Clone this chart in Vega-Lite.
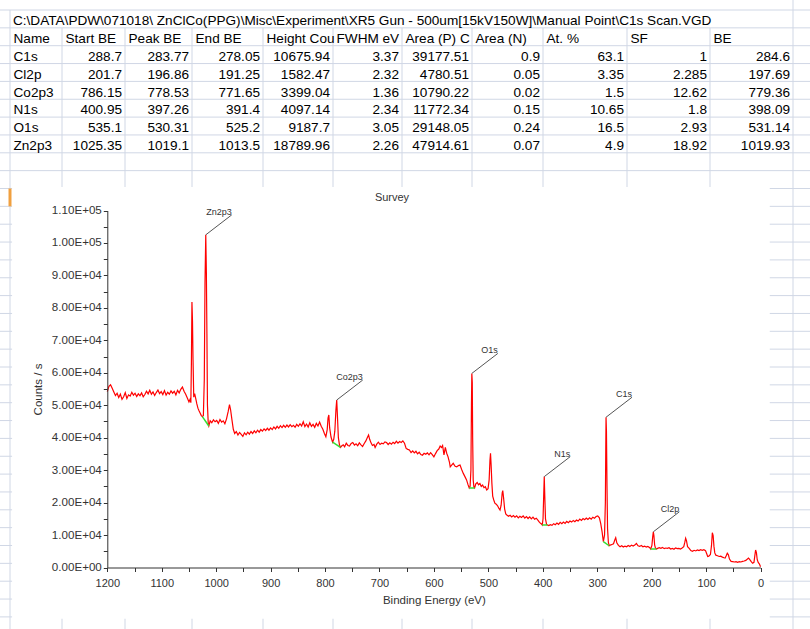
{
 "$schema": "https://vega.github.io/schema/vega-lite/v6.json",
 "width": 810, "height": 629, "autosize": {"type": "none"}, "padding": 0,
 "background": "white",
 "config": {"view": {"stroke": null}, "font": "Liberation Sans"},
 "title": {"text": "Survey", "orient": "top", "frame": "group", "anchor": "middle", "offset": -220, "dx": -13, "baseline": "alphabetic", "fontSize": 11, "font": "Liberation Sans", "fontWeight": "normal", "color": "#333333"},
 "datasets": {
  "cells": [
   {"r": 2, "name": "C1s", "start": 288.7, "peak": 283.77, "end": 278.05, "height": 10675.94, "fwhm": 3.37, "areaP": 39177.51, "areaN": 0.9, "at": 63.1, "sf": 1, "be": 284.6},
   {"r": 3, "name": "Cl2p", "start": 201.7, "peak": 196.86, "end": 191.25, "height": 1582.47, "fwhm": 2.32, "areaP": 4780.51, "areaN": 0.05, "at": 3.35, "sf": 2.285, "be": 197.69},
   {"r": 4, "name": "Co2p3", "start": 786.15, "peak": 778.53, "end": 771.65, "height": 3399.04, "fwhm": 1.36, "areaP": 10790.22, "areaN": 0.02, "at": 1.5, "sf": 12.62, "be": 779.36},
   {"r": 5, "name": "N1s", "start": 400.95, "peak": 397.26, "end": 391.4, "height": 4097.14, "fwhm": 2.34, "areaP": 11772.34, "areaN": 0.15, "at": 10.65, "sf": 1.8, "be": 398.09},
   {"r": 6, "name": "O1s", "start": 535.1, "peak": 530.31, "end": 525.2, "height": 9187.7, "fwhm": 3.05, "areaP": 29148.05, "areaN": 0.24, "at": 16.5, "sf": 2.93, "be": 531.14},
   {"r": 7, "name": "Zn2p3", "start": 1025.35, "peak": 1019.1, "end": 1013.5, "height": 18789.96, "fwhm": 2.26, "areaP": 47914.61, "areaN": 0.07, "at": 4.9, "sf": 18.92, "be": 1019.93}
  ],
  "heads": [
   {"i": 0, "h": "Name"}, {"i": 1, "h": "Start BE"}, {"i": 2, "h": "Peak BE"}, {"i": 3, "h": "End BE"}, {"i": 4, "h": "Height Cou"}, {"i": 5, "h": "FWHM eV"}, {"i": 6, "h": "Area (P) C"}, {"i": 7, "h": "Area (N)"}, {"i": 8, "h": "At. %"}, {"i": 9, "h": "SF"}, {"i": 10, "h": "BE"}
  ],
  "path": [{"t": "C:\\DATA\\PDW\\071018\\ ZnClCo(PPG)\\Misc\\Experiment\\XR5 Gun - 500um[15kV150W]\\Manual Point\\C1s Scan.VGD"}],
  "hrows": [{"r": 0}, {"r": 1}, {"r": 2}, {"r": 3}, {"r": 4}, {"r": 5}, {"r": 6}, {"r": 7}, {"r": 8}, {"r": 9}, {"r": 10}, {"r": 11}, {"r": 12}, {"r": 13}, {"r": 14}, {"r": 15}, {"r": 16}, {"r": 17}, {"r": 18}, {"r": 19}, {"r": 20}, {"r": 21}, {"r": 22}, {"r": 23}, {"r": 24}, {"r": 25}, {"r": 26}, {"r": 27}, {"r": 28}, {"r": 29}, {"r": 30}, {"r": 31}, {"r": 32}, {"r": 33}, {"r": 34}],
  "vcols": [{"i": 0, "r0": 0}, {"i": 1, "r0": 1}, {"i": 2, "r0": 1}, {"i": 3, "r0": 1}, {"i": 4, "r0": 1}, {"i": 5, "r0": 1}, {"i": 6, "r0": 1}, {"i": 7, "r0": 1}, {"i": 8, "r0": 1}, {"i": 9, "r0": 1}, {"i": 10, "r0": 1}, {"i": 11, "r0": -1}],
  "spectrum": [
   {"e": 1200, "c": 54200}, {"e": 1197, "c": 55800}, {"e": 1194, "c": 56300}, {"e": 1191, "c": 55200}, {"e": 1188, "c": 54100}, {"e": 1185, "c": 53000}, {"e": 1182, "c": 53700}, {"e": 1179, "c": 52400}, {"e": 1176, "c": 53400}, {"e": 1173, "c": 51800}, {"e": 1170, "c": 52600}, {"e": 1167, "c": 53900}, {"e": 1164, "c": 52100}, {"e": 1161, "c": 53200}, {"e": 1158, "c": 52800}, {"e": 1155, "c": 54000}, {"e": 1152, "c": 53100}, {"e": 1149, "c": 53700}, {"e": 1146, "c": 52700}, {"e": 1143, "c": 53500}, {"e": 1140, "c": 52900}, {"e": 1137, "c": 53800}, {"e": 1134, "c": 52600}, {"e": 1131, "c": 53300}, {"e": 1128, "c": 54300}, {"e": 1125, "c": 53500}, {"e": 1122, "c": 54600}, {"e": 1119, "c": 53400}, {"e": 1116, "c": 54100}, {"e": 1113, "c": 53000}, {"e": 1110, "c": 53900}, {"e": 1107, "c": 54700}, {"e": 1104, "c": 53600}, {"e": 1101, "c": 54200}, {"e": 1098, "c": 53300}, {"e": 1095, "c": 54500}, {"e": 1092, "c": 53100}, {"e": 1089, "c": 54000}, {"e": 1086, "c": 53400}, {"e": 1083, "c": 54400}, {"e": 1080, "c": 53700}, {"e": 1077, "c": 54300}, {"e": 1074, "c": 53200}, {"e": 1071, "c": 54600}, {"e": 1068, "c": 53800}, {"e": 1065, "c": 54900}, {"e": 1062, "c": 55600}, {"e": 1059, "c": 54300}, {"e": 1056, "c": 53400}, {"e": 1053, "c": 52200}, {"e": 1050, "c": 51000}, {"e": 1048, "c": 51800}, {"e": 1046.5, "c": 50800}, {"e": 1045.5, "c": 63000}, {"e": 1044.5, "c": 81800}, {"e": 1043.5, "c": 76000}, {"e": 1042.5, "c": 64000}, {"e": 1041.2, "c": 52500}, {"e": 1039.5, "c": 53600}, {"e": 1037.5, "c": 52000}, {"e": 1035.5, "c": 50400}, {"e": 1033.5, "c": 49100}, {"e": 1031.5, "c": 48300}, {"e": 1029.5, "c": 47600}, {"e": 1027.5, "c": 46900}, {"e": 1025.35, "c": 46500}, {"e": 1023.5, "c": 46800}, {"e": 1021.8, "c": 58000}, {"e": 1020.5, "c": 88000}, {"e": 1019.1, "c": 102500}, {"e": 1018, "c": 91000}, {"e": 1017, "c": 72000}, {"e": 1016, "c": 50000}, {"e": 1014.5, "c": 44200}, {"e": 1013.5, "c": 43600},
   {"e": 1011, "c": 45200}, {"e": 1008, "c": 44600}, {"e": 1005, "c": 45500}, {"e": 1002, "c": 44900}, {"e": 999, "c": 45300}, {"e": 996, "c": 44400}, {"e": 993, "c": 45600}, {"e": 990, "c": 44800}, {"e": 987, "c": 45200}, {"e": 984, "c": 44300}, {"e": 981, "c": 45800}, {"e": 978, "c": 48000}, {"e": 975.5, "c": 50200}, {"e": 973.5, "c": 48600}, {"e": 971, "c": 45500}, {"e": 968.5, "c": 42600}, {"e": 966, "c": 41300}, {"e": 963, "c": 41900}, {"e": 960, "c": 40800}, {"e": 957, "c": 41600}, {"e": 954, "c": 41000}, {"e": 951, "c": 40400}, {"e": 948, "c": 41500}, {"e": 945, "c": 40900}, {"e": 942, "c": 41700}, {"e": 939, "c": 41100}, {"e": 936, "c": 41900}, {"e": 933, "c": 41300}, {"e": 930, "c": 42100}, {"e": 927, "c": 41500}, {"e": 924, "c": 42300}, {"e": 921, "c": 41700}, {"e": 918, "c": 42500}, {"e": 915, "c": 42000}, {"e": 912, "c": 42700}, {"e": 909, "c": 42200}, {"e": 906, "c": 42900}, {"e": 903, "c": 42300}, {"e": 900, "c": 43000}, {"e": 897, "c": 42500}, {"e": 894, "c": 43300}, {"e": 891, "c": 42700}, {"e": 888, "c": 43500}, {"e": 885, "c": 42900}, {"e": 882, "c": 43700}, {"e": 879, "c": 43100}, {"e": 876, "c": 43800}, {"e": 873, "c": 43200}, {"e": 870, "c": 43900}, {"e": 867, "c": 43300}, {"e": 864, "c": 44000}, {"e": 861, "c": 43400}, {"e": 858, "c": 43800}, {"e": 855, "c": 43200}, {"e": 852, "c": 44100}, {"e": 849, "c": 43500}, {"e": 846, "c": 44300}, {"e": 843, "c": 43600}, {"e": 840, "c": 44900}, {"e": 837, "c": 43400}, {"e": 834, "c": 44200}, {"e": 831, "c": 43300}, {"e": 828, "c": 44600}, {"e": 825, "c": 43500}, {"e": 822, "c": 44100}, {"e": 819, "c": 43200}, {"e": 816, "c": 44400}, {"e": 813, "c": 43600}, {"e": 810, "c": 44800}, {"e": 807, "c": 43500}, {"e": 804, "c": 42600}, {"e": 801, "c": 41200}, {"e": 798.5, "c": 40300}, {"e": 796, "c": 42500}, {"e": 794.5, "c": 46000}, {"e": 793, "c": 47000}, {"e": 791.5, "c": 43000}, {"e": 789, "c": 40200}, {"e": 786.15, "c": 38600}, {"e": 784, "c": 39500}, {"e": 782, "c": 42000}, {"e": 780, "c": 48500}, {"e": 778.53, "c": 51600}, {"e": 777.3, "c": 47000}, {"e": 775.5, "c": 40000}, {"e": 773.5, "c": 37800}, {"e": 771.65, "c": 37000},
   {"e": 769, "c": 37500}, {"e": 766.5, "c": 37800}, {"e": 764, "c": 37200}, {"e": 761, "c": 38300}, {"e": 758, "c": 37600}, {"e": 755, "c": 37400}, {"e": 752, "c": 38200}, {"e": 749, "c": 38500}, {"e": 746, "c": 37700}, {"e": 743, "c": 38100}, {"e": 740, "c": 37500}, {"e": 737, "c": 38400}, {"e": 734, "c": 37800}, {"e": 731, "c": 37300}, {"e": 728, "c": 38200}, {"e": 725, "c": 39000}, {"e": 722, "c": 40100}, {"e": 720, "c": 40800}, {"e": 718, "c": 39500}, {"e": 715.5, "c": 38400}, {"e": 713, "c": 37600}, {"e": 710, "c": 37900}, {"e": 708, "c": 37000}, {"e": 705, "c": 38000}, {"e": 702, "c": 38600}, {"e": 699, "c": 37900}, {"e": 696, "c": 38300}, {"e": 693, "c": 38100}, {"e": 690, "c": 38700}, {"e": 687, "c": 38500}, {"e": 684, "c": 37900}, {"e": 681, "c": 38400}, {"e": 678, "c": 38000}, {"e": 675, "c": 38600}, {"e": 672, "c": 38200}, {"e": 669, "c": 38900}, {"e": 666, "c": 38300}, {"e": 663, "c": 38800}, {"e": 660, "c": 38500}, {"e": 657, "c": 39000}, {"e": 654, "c": 38300}, {"e": 651, "c": 36700}, {"e": 648, "c": 36400}, {"e": 645, "c": 36200}, {"e": 642, "c": 35400}, {"e": 639, "c": 35900}, {"e": 636, "c": 35300}, {"e": 633, "c": 35800}, {"e": 630, "c": 35000}, {"e": 627, "c": 35500}, {"e": 624, "c": 34800}, {"e": 621, "c": 34600}, {"e": 618, "c": 35200}, {"e": 615, "c": 34900}, {"e": 612, "c": 35300}, {"e": 609, "c": 34700}, {"e": 606, "c": 35400}, {"e": 603, "c": 34800}, {"e": 600, "c": 34100}, {"e": 597, "c": 35100}, {"e": 594, "c": 36000}, {"e": 591, "c": 36500}, {"e": 588.5, "c": 37400}, {"e": 586, "c": 37000}, {"e": 584, "c": 37600}, {"e": 581.5, "c": 34700}, {"e": 579, "c": 37000}, {"e": 576.5, "c": 35200}, {"e": 574, "c": 34100}, {"e": 571.5, "c": 32500}, {"e": 570, "c": 31000}, {"e": 567, "c": 31600}, {"e": 564.5, "c": 32100}, {"e": 561, "c": 31200}, {"e": 558, "c": 31000}, {"e": 555, "c": 31400}, {"e": 552, "c": 31600}, {"e": 549, "c": 30200}, {"e": 546, "c": 29000}, {"e": 543, "c": 28000}, {"e": 540, "c": 27000}, {"e": 537.5, "c": 25600}, {"e": 535.1, "c": 24500},
   {"e": 533.5, "c": 25000}, {"e": 532, "c": 30000}, {"e": 531, "c": 50000}, {"e": 530.31, "c": 59800}, {"e": 529.5, "c": 57000}, {"e": 528.8, "c": 40000}, {"e": 527.8, "c": 27000}, {"e": 526.5, "c": 24800}, {"e": 525.2, "c": 24500}, {"e": 523, "c": 25800}, {"e": 520.5, "c": 26200}, {"e": 518, "c": 25500}, {"e": 515.5, "c": 25900}, {"e": 513, "c": 25000}, {"e": 510.5, "c": 25400}, {"e": 508, "c": 24600}, {"e": 505.5, "c": 24900}, {"e": 503, "c": 23900}, {"e": 500.5, "c": 24300}, {"e": 498.5, "c": 27000}, {"e": 497, "c": 33000}, {"e": 496, "c": 35200}, {"e": 495, "c": 32000}, {"e": 493.5, "c": 26000}, {"e": 492, "c": 22000}, {"e": 490, "c": 20800}, {"e": 488, "c": 19800}, {"e": 485.5, "c": 19500}, {"e": 483, "c": 19000}, {"e": 480.5, "c": 18200}, {"e": 478.5, "c": 17700}, {"e": 476.5, "c": 19200}, {"e": 474.5, "c": 23000}, {"e": 473.5, "c": 23700}, {"e": 472, "c": 21500}, {"e": 470, "c": 18000}, {"e": 468, "c": 16500}, {"e": 466, "c": 16200}, {"e": 463, "c": 15800}, {"e": 460, "c": 16100}, {"e": 457, "c": 15600}, {"e": 454, "c": 16000}, {"e": 451, "c": 15500}, {"e": 448, "c": 15900}, {"e": 445, "c": 15300}, {"e": 442, "c": 15800}, {"e": 439, "c": 15400}, {"e": 436, "c": 15900}, {"e": 433, "c": 15200}, {"e": 430, "c": 15700}, {"e": 427, "c": 15100}, {"e": 424, "c": 15600}, {"e": 421, "c": 15000}, {"e": 418, "c": 15500}, {"e": 415, "c": 14900}, {"e": 412, "c": 15200}, {"e": 409, "c": 14600}, {"e": 406, "c": 13900}, {"e": 403, "c": 13500}, {"e": 400.95, "c": 13100}, {"e": 399.5, "c": 15000}, {"e": 398.3, "c": 22000}, {"e": 397.26, "c": 28000}, {"e": 396.3, "c": 22000}, {"e": 395, "c": 15000}, {"e": 393, "c": 13300}, {"e": 391.4, "c": 13100}, {"e": 389, "c": 12900}, {"e": 386, "c": 13200}, {"e": 383, "c": 13000}, {"e": 380, "c": 13500}, {"e": 377, "c": 13200}, {"e": 374, "c": 13700}, {"e": 371, "c": 13300}, {"e": 368, "c": 13900}, {"e": 365, "c": 13500}, {"e": 362, "c": 14000}, {"e": 359, "c": 13600}, {"e": 356, "c": 14200}, {"e": 353, "c": 13800}, {"e": 350, "c": 14300}, {"e": 347, "c": 14000}, {"e": 344, "c": 14500}, {"e": 341, "c": 14100}, {"e": 338, "c": 14600}, {"e": 335, "c": 14300}, {"e": 332, "c": 14900}, {"e": 329, "c": 14500}, {"e": 326, "c": 15100}, {"e": 323, "c": 14700}, {"e": 320, "c": 15200}, {"e": 317, "c": 14800}, {"e": 314, "c": 15300}, {"e": 311, "c": 14900}, {"e": 308, "c": 15500}, {"e": 305, "c": 15200}, {"e": 302, "c": 15700}, {"e": 299, "c": 15900}, {"e": 296, "c": 15300}, {"e": 293.5, "c": 13500}, {"e": 291, "c": 11000}, {"e": 288.7, "c": 7950}, {"e": 286.5, "c": 10000}, {"e": 285, "c": 20000}, {"e": 284.2, "c": 38000}, {"e": 283.77, "c": 46300}, {"e": 283, "c": 42000}, {"e": 282, "c": 25000}, {"e": 281, "c": 12000}, {"e": 279.5, "c": 7800}, {"e": 278.05, "c": 6700}, {"e": 276, "c": 6900}, {"e": 273, "c": 7100}, {"e": 270, "c": 7300}, {"e": 267.5, "c": 8600}, {"e": 266, "c": 9200}, {"e": 264, "c": 7600}, {"e": 261, "c": 6800}, {"e": 258, "c": 6400}, {"e": 255, "c": 6700}, {"e": 252, "c": 6300}, {"e": 249, "c": 6600}, {"e": 246, "c": 6400}, {"e": 243, "c": 6800}, {"e": 240, "c": 6500}, {"e": 237, "c": 6900}, {"e": 234, "c": 6600}, {"e": 231, "c": 6900}, {"e": 228, "c": 7400}, {"e": 225, "c": 6700}, {"e": 222, "c": 6500}, {"e": 219, "c": 6800}, {"e": 216, "c": 6400}, {"e": 213, "c": 6600}, {"e": 210, "c": 6300}, {"e": 207, "c": 6500}, {"e": 204, "c": 6200}, {"e": 201.7, "c": 5700}, {"e": 199.5, "c": 6800}, {"e": 198, "c": 9500}, {"e": 196.86, "c": 11000}, {"e": 195.8, "c": 9800}, {"e": 194.5, "c": 7000}, {"e": 193, "c": 6000}, {"e": 191.25, "c": 5700}, {"e": 189, "c": 5900}, {"e": 186, "c": 6100}, {"e": 183, "c": 5900}, {"e": 180, "c": 6200}, {"e": 177, "c": 5800}, {"e": 174, "c": 6000}, {"e": 171, "c": 5900}, {"e": 168, "c": 6100}, {"e": 165, "c": 5700}, {"e": 162, "c": 5900}, {"e": 159, "c": 5600}, {"e": 156, "c": 6000}, {"e": 153, "c": 5800}, {"e": 150, "c": 5900}, {"e": 147, "c": 5700}, {"e": 144, "c": 6000}, {"e": 141, "c": 6400}, {"e": 139, "c": 7800}, {"e": 137.5, "c": 9000}, {"e": 136, "c": 8300}, {"e": 134, "c": 6400}, {"e": 131, "c": 5900}, {"e": 128, "c": 5200}, {"e": 125, "c": 5000}, {"e": 122, "c": 5300}, {"e": 119, "c": 5100}, {"e": 116, "c": 5400}, {"e": 113, "c": 5200}, {"e": 110, "c": 5500}, {"e": 107, "c": 5300}, {"e": 104, "c": 5500}, {"e": 101, "c": 5200}, {"e": 99, "c": 4300}, {"e": 97, "c": 3400}, {"e": 95, "c": 3500}, {"e": 92, "c": 4000}, {"e": 90, "c": 6800}, {"e": 88.5, "c": 10700}, {"e": 87, "c": 9800}, {"e": 85.5, "c": 6500}, {"e": 84, "c": 4500}, {"e": 82, "c": 3800}, {"e": 79, "c": 3600}, {"e": 76, "c": 3400}, {"e": 73, "c": 3500}, {"e": 70, "c": 3200}, {"e": 67, "c": 3000}, {"e": 65, "c": 2900}, {"e": 63, "c": 3600}, {"e": 61, "c": 4400}, {"e": 59, "c": 3900}, {"e": 57, "c": 2600}, {"e": 54, "c": 1900}, {"e": 51, "c": 1800}, {"e": 48, "c": 1700}, {"e": 45, "c": 1800}, {"e": 42, "c": 1600}, {"e": 39, "c": 1800}, {"e": 36, "c": 1700}, {"e": 33, "c": 1900}, {"e": 30, "c": 2000}, {"e": 27, "c": 2200}, {"e": 24, "c": 2600}, {"e": 22, "c": 2900}, {"e": 20, "c": 2500}, {"e": 17, "c": 1800}, {"e": 14.5, "c": 1300}, {"e": 12, "c": 1600}, {"e": 10.5, "c": 3500}, {"e": 9, "c": 5400}, {"e": 7.5, "c": 4600}, {"e": 6, "c": 2400}, {"e": 4, "c": 1500}, {"e": 2.5, "c": 1200}, {"e": 1, "c": 700}, {"e": 0, "c": 250}
  ],
  "bg": [
   {"name": "Zn2p3", "s": 1025.35, "sc": 46500, "t": 1013.5, "tc": 43600},
   {"name": "Co2p3", "s": 786.15, "sc": 38600, "t": 771.65, "tc": 37000},
   {"name": "O1s", "s": 535.1, "sc": 24500, "t": 525.2, "tc": 24500},
   {"name": "N1s", "s": 400.95, "sc": 13100, "t": 391.4, "tc": 13100},
   {"name": "C1s", "s": 288.7, "sc": 7950, "t": 278.05, "tc": 6700},
   {"name": "Cl2p", "s": 201.7, "sc": 5700, "t": 191.25, "tc": 5700}
  ],
  "peaks": [
   {"name": "Zn2p3", "be": 1019.1, "top": 102500},
   {"name": "Co2p3", "be": 778.53, "top": 51600},
   {"name": "O1s", "be": 530.31, "top": 59800},
   {"name": "N1s", "be": 397.26, "top": 28000},
   {"name": "C1s", "be": 283.77, "top": 46300},
   {"name": "Cl2p", "be": 196.86, "top": 11000}
  ]
 },
 "layer": [
  {"data": {"name": "hrows"}, "mark": {"type": "rule", "stroke": "#d0d7e5", "strokeWidth": 1},
   "encoding": {"y": {"field": "r", "type": "quantitative", "axis": null, "scale": {"domain": [0, 35], "range": [10, 634.75], "nice": false, "zero": false}}}},
  {"data": {"name": "vcols"}, "mark": {"type": "rule", "stroke": "#d0d7e5", "strokeWidth": 1},
   "encoding": {
    "x": {"field": "i", "type": "quantitative", "axis": null, "scale": {"domain": [0, 1, 2, 3, 4, 5, 6, 7, 8, 9, 10, 11], "range": [10, 62, 125, 192, 263, 333, 402, 472, 543, 627, 710, 793], "nice": false, "zero": false}},
    "y": {"field": "r0", "type": "quantitative", "axis": null, "scale": {"domain": [0, 35], "range": [10, 634.75], "nice": false, "zero": false}},
    "y2": {"datum": 35}}},
  {"data": {"values": [{}]}, "mark": {"type": "rect", "fill": "white"},
   "encoding": {
    "x": {"datum": 0.04, "type": "quantitative", "axis": null, "scale": {"domain": [0, 1, 2, 3, 4, 5, 6, 7, 8, 9, 10, 11], "range": [10, 62, 125, 192, 263, 333, 402, 472, 543, 627, 710, 793], "nice": false, "zero": false}},
    "x2": {"datum": 10.72},
    "y": {"datum": 9.92, "type": "quantitative", "axis": null, "scale": {"domain": [0, 35], "range": [10, 634.75], "nice": false, "zero": false}},
    "y2": {"datum": 34.11}}},
  {"data": {"values": [{}]}, "mark": {"type": "rule", "stroke": "#f0a040", "strokeWidth": 3},
   "encoding": {
    "x": {"datum": 0, "type": "quantitative", "axis": null, "scale": {"domain": [0, 1, 2, 3, 4, 5, 6, 7, 8, 9, 10, 11], "range": [10, 62, 125, 192, 263, 333, 402, 472, 543, 627, 710, 793], "nice": false, "zero": false}},
    "y": {"datum": 10, "type": "quantitative", "axis": null, "scale": {"domain": [0, 35], "range": [10, 634.75], "nice": false, "zero": false}},
    "y2": {"datum": 11}}},
  {"data": {"name": "path"}, "mark": {"type": "text", "align": "left", "baseline": "alphabetic", "dx": 3, "dy": 15.2, "fontSize": 13.6, "font": "Liberation Sans", "fill": "black"},
   "encoding": {
    "x": {"datum": 0, "type": "quantitative", "axis": null, "scale": {"domain": [0, 1, 2, 3, 4, 5, 6, 7, 8, 9, 10, 11], "range": [10, 62, 125, 192, 263, 333, 402, 472, 543, 627, 710, 793], "nice": false, "zero": false}},
    "y": {"datum": 0, "type": "quantitative", "axis": null, "scale": {"domain": [0, 35], "range": [10, 634.75], "nice": false, "zero": false}},
    "text": {"field": "t", "type": "nominal"}}},
  {"data": {"name": "heads"}, "mark": {"type": "text", "align": "left", "baseline": "alphabetic", "dx": 3.5, "dy": 15.2, "fontSize": 13.6, "font": "Liberation Sans", "fill": "black"},
   "encoding": {
    "x": {"field": "i", "type": "quantitative", "axis": null, "scale": {"domain": [0, 1, 2, 3, 4, 5, 6, 7, 8, 9, 10, 11], "range": [10, 62, 125, 192, 263, 333, 402, 472, 543, 627, 710, 793], "nice": false, "zero": false}},
    "y": {"datum": 1, "type": "quantitative", "axis": null, "scale": {"domain": [0, 35], "range": [10, 634.75], "nice": false, "zero": false}},
    "text": {"field": "h", "type": "nominal"}}},
  {"data": {"name": "cells"}, "mark": {"type": "text", "align": "left", "baseline": "alphabetic", "dx": 3.5, "dy": 15.2, "fontSize": 13.6, "font": "Liberation Sans", "fill": "black"},
   "encoding": {
    "x": {"datum": 0, "type": "quantitative", "axis": null, "scale": {"domain": [0, 1, 2, 3, 4, 5, 6, 7, 8, 9, 10, 11], "range": [10, 62, 125, 192, 263, 333, 402, 472, 543, 627, 710, 793], "nice": false, "zero": false}},
    "y": {"field": "r", "type": "quantitative", "axis": null, "scale": {"domain": [0, 35], "range": [10, 634.75], "nice": false, "zero": false}},
    "text": {"field": "name", "type": "nominal"}}},
  {"data": {"name": "cells"}, "mark": {"type": "text", "align": "right", "baseline": "alphabetic", "dx": -3, "dy": 15.2, "fontSize": 13.6, "font": "Liberation Sans", "fill": "black"},
   "encoding": {
    "x": {"datum": 2, "type": "quantitative", "axis": null, "scale": {"domain": [0, 1, 2, 3, 4, 5, 6, 7, 8, 9, 10, 11], "range": [10, 62, 125, 192, 263, 333, 402, 472, 543, 627, 710, 793], "nice": false, "zero": false}},
    "y": {"field": "r", "type": "quantitative", "axis": null, "scale": {"domain": [0, 35], "range": [10, 634.75], "nice": false, "zero": false}},
    "text": {"field": "start", "type": "nominal"}}},
  {"data": {"name": "cells"}, "mark": {"type": "text", "align": "right", "baseline": "alphabetic", "dx": -3, "dy": 15.2, "fontSize": 13.6, "font": "Liberation Sans", "fill": "black"},
   "encoding": {
    "x": {"datum": 3, "type": "quantitative", "axis": null, "scale": {"domain": [0, 1, 2, 3, 4, 5, 6, 7, 8, 9, 10, 11], "range": [10, 62, 125, 192, 263, 333, 402, 472, 543, 627, 710, 793], "nice": false, "zero": false}},
    "y": {"field": "r", "type": "quantitative", "axis": null, "scale": {"domain": [0, 35], "range": [10, 634.75], "nice": false, "zero": false}},
    "text": {"field": "peak", "type": "nominal"}}},
  {"data": {"name": "cells"}, "mark": {"type": "text", "align": "right", "baseline": "alphabetic", "dx": -3, "dy": 15.2, "fontSize": 13.6, "font": "Liberation Sans", "fill": "black"},
   "encoding": {
    "x": {"datum": 4, "type": "quantitative", "axis": null, "scale": {"domain": [0, 1, 2, 3, 4, 5, 6, 7, 8, 9, 10, 11], "range": [10, 62, 125, 192, 263, 333, 402, 472, 543, 627, 710, 793], "nice": false, "zero": false}},
    "y": {"field": "r", "type": "quantitative", "axis": null, "scale": {"domain": [0, 35], "range": [10, 634.75], "nice": false, "zero": false}},
    "text": {"field": "end", "type": "nominal"}}},
  {"data": {"name": "cells"}, "mark": {"type": "text", "align": "right", "baseline": "alphabetic", "dx": -3, "dy": 15.2, "fontSize": 13.6, "font": "Liberation Sans", "fill": "black"},
   "encoding": {
    "x": {"datum": 5, "type": "quantitative", "axis": null, "scale": {"domain": [0, 1, 2, 3, 4, 5, 6, 7, 8, 9, 10, 11], "range": [10, 62, 125, 192, 263, 333, 402, 472, 543, 627, 710, 793], "nice": false, "zero": false}},
    "y": {"field": "r", "type": "quantitative", "axis": null, "scale": {"domain": [0, 35], "range": [10, 634.75], "nice": false, "zero": false}},
    "text": {"field": "height", "type": "nominal"}}},
  {"data": {"name": "cells"}, "mark": {"type": "text", "align": "right", "baseline": "alphabetic", "dx": -3, "dy": 15.2, "fontSize": 13.6, "font": "Liberation Sans", "fill": "black"},
   "encoding": {
    "x": {"datum": 6, "type": "quantitative", "axis": null, "scale": {"domain": [0, 1, 2, 3, 4, 5, 6, 7, 8, 9, 10, 11], "range": [10, 62, 125, 192, 263, 333, 402, 472, 543, 627, 710, 793], "nice": false, "zero": false}},
    "y": {"field": "r", "type": "quantitative", "axis": null, "scale": {"domain": [0, 35], "range": [10, 634.75], "nice": false, "zero": false}},
    "text": {"field": "fwhm", "type": "nominal"}}},
  {"data": {"name": "cells"}, "mark": {"type": "text", "align": "right", "baseline": "alphabetic", "dx": -3, "dy": 15.2, "fontSize": 13.6, "font": "Liberation Sans", "fill": "black"},
   "encoding": {
    "x": {"datum": 7, "type": "quantitative", "axis": null, "scale": {"domain": [0, 1, 2, 3, 4, 5, 6, 7, 8, 9, 10, 11], "range": [10, 62, 125, 192, 263, 333, 402, 472, 543, 627, 710, 793], "nice": false, "zero": false}},
    "y": {"field": "r", "type": "quantitative", "axis": null, "scale": {"domain": [0, 35], "range": [10, 634.75], "nice": false, "zero": false}},
    "text": {"field": "areaP", "type": "nominal"}}},
  {"data": {"name": "cells"}, "mark": {"type": "text", "align": "right", "baseline": "alphabetic", "dx": -3, "dy": 15.2, "fontSize": 13.6, "font": "Liberation Sans", "fill": "black"},
   "encoding": {
    "x": {"datum": 8, "type": "quantitative", "axis": null, "scale": {"domain": [0, 1, 2, 3, 4, 5, 6, 7, 8, 9, 10, 11], "range": [10, 62, 125, 192, 263, 333, 402, 472, 543, 627, 710, 793], "nice": false, "zero": false}},
    "y": {"field": "r", "type": "quantitative", "axis": null, "scale": {"domain": [0, 35], "range": [10, 634.75], "nice": false, "zero": false}},
    "text": {"field": "areaN", "type": "nominal"}}},
  {"data": {"name": "cells"}, "mark": {"type": "text", "align": "right", "baseline": "alphabetic", "dx": -3, "dy": 15.2, "fontSize": 13.6, "font": "Liberation Sans", "fill": "black"},
   "encoding": {
    "x": {"datum": 9, "type": "quantitative", "axis": null, "scale": {"domain": [0, 1, 2, 3, 4, 5, 6, 7, 8, 9, 10, 11], "range": [10, 62, 125, 192, 263, 333, 402, 472, 543, 627, 710, 793], "nice": false, "zero": false}},
    "y": {"field": "r", "type": "quantitative", "axis": null, "scale": {"domain": [0, 35], "range": [10, 634.75], "nice": false, "zero": false}},
    "text": {"field": "at", "type": "nominal"}}},
  {"data": {"name": "cells"}, "mark": {"type": "text", "align": "right", "baseline": "alphabetic", "dx": -3, "dy": 15.2, "fontSize": 13.6, "font": "Liberation Sans", "fill": "black"},
   "encoding": {
    "x": {"datum": 10, "type": "quantitative", "axis": null, "scale": {"domain": [0, 1, 2, 3, 4, 5, 6, 7, 8, 9, 10, 11], "range": [10, 62, 125, 192, 263, 333, 402, 472, 543, 627, 710, 793], "nice": false, "zero": false}},
    "y": {"field": "r", "type": "quantitative", "axis": null, "scale": {"domain": [0, 35], "range": [10, 634.75], "nice": false, "zero": false}},
    "text": {"field": "sf", "type": "nominal"}}},
  {"data": {"name": "cells"}, "mark": {"type": "text", "align": "right", "baseline": "alphabetic", "dx": -3, "dy": 15.2, "fontSize": 13.6, "font": "Liberation Sans", "fill": "black"},
   "encoding": {
    "x": {"datum": 11, "type": "quantitative", "axis": null, "scale": {"domain": [0, 1, 2, 3, 4, 5, 6, 7, 8, 9, 10, 11], "range": [10, 62, 125, 192, 263, 333, 402, 472, 543, 627, 710, 793], "nice": false, "zero": false}},
    "y": {"field": "r", "type": "quantitative", "axis": null, "scale": {"domain": [0, 35], "range": [10, 634.75], "nice": false, "zero": false}},
    "text": {"field": "be", "type": "nominal"}}},
  {"data": {"name": "spectrum"}, "mark": {"type": "line", "stroke": "#ff0000", "strokeWidth": 1.2, "interpolate": "linear"},
   "encoding": {
    "x": {"field": "e", "type": "quantitative",
     "scale": {"domain": [0, 1200], "range": [760.5, 107.3], "nice": false, "zero": false},
     "axis": {"orient": "bottom", "offset": -61.5, "zindex": 1, "values": [0, 50, 100, 150, 200, 250, 300, 350, 400, 450, 500, 550, 600, 650, 700, 750, 800, 850, 900, 950, 1000, 1050, 1100, 1150, 1200],
      "format": "d", "labelExpr": "datum.value % 100 === 0 ? datum.label : ''", "grid": false,
      "domainColor": "#333333", "tickColor": "#333333", "tickSize": 4, "labelFont": "Liberation Sans", "labelFontSize": 11, "labelColor": "#333333", "labelPadding": 6, "labelFlush": false, "labelOverlap": false, "labelBound": false,
      "title": "Binding Energy (eV)", "titleFont": "Liberation Sans", "titleFontSize": 11.5, "titleFontWeight": "normal", "titleColor": "#333333", "titlePadding": 6}},
    "y": {"field": "c", "type": "quantitative",
     "scale": {"domain": [0, 110000], "range": [567.5, 210.5], "nice": false, "zero": false},
     "axis": {"orient": "left", "offset": -107.3, "zindex": 1, "values": [0, 5000, 10000, 15000, 20000, 25000, 30000, 35000, 40000, 45000, 50000, 55000, 60000, 65000, 70000, 75000, 80000, 85000, 90000, 95000, 100000, 105000, 110000],
      "labelExpr": "datum.value % 10000 === 0 ? replace(format(datum.value, '.2e'), 'e+', 'E+0') : ''", "grid": false,
      "domainColor": "#333333", "tickColor": "#333333", "tickSize": 4, "labelFont": "Liberation Sans", "labelFontSize": 11.6, "labelColor": "#333333", "labelPadding": 2, "labelOverlap": false, "labelBound": false, "labelFlush": false,
      "title": "Counts / s", "titleFont": "Liberation Sans", "titleFontSize": 11.5, "titleFontWeight": "normal", "titleColor": "#333333", "titlePadding": 8}}
   }},
  {"data": {"name": "bg"}, "mark": {"type": "rule", "stroke": "#33dd33", "strokeWidth": 1.5},
   "encoding": {
    "x": {"field": "s", "type": "quantitative", "axis": null, "scale": {"domain": [0, 1200], "range": [760.5, 107.3], "nice": false, "zero": false}},
    "x2": {"field": "t"},
    "y": {"field": "sc", "type": "quantitative", "axis": null, "scale": {"domain": [0, 110000], "range": [567.5, 210.5], "nice": false, "zero": false}},
    "y2": {"field": "tc"}}},
  {"data": {"name": "peaks"}, "mark": {"type": "rule", "stroke": "#555555", "strokeWidth": 1, "x2Offset": 26, "y2Offset": -20},
   "encoding": {
    "x": {"field": "be", "type": "quantitative", "axis": null, "scale": {"domain": [0, 1200], "range": [760.5, 107.3], "nice": false, "zero": false}},
    "x2": {"field": "be"},
    "y": {"field": "top", "type": "quantitative", "axis": null, "scale": {"domain": [0, 110000], "range": [567.5, 210.5], "nice": false, "zero": false}},
    "y2": {"field": "top"}}},
  {"data": {"name": "peaks"}, "mark": {"type": "text", "align": "right", "baseline": "alphabetic", "dx": 26, "dy": -20, "fontSize": 9, "font": "Liberation Sans", "fill": "#333333"},
   "encoding": {
    "x": {"field": "be", "type": "quantitative", "axis": null, "scale": {"domain": [0, 1200], "range": [760.5, 107.3], "nice": false, "zero": false}},
    "y": {"field": "top", "type": "quantitative", "axis": null, "scale": {"domain": [0, 110000], "range": [567.5, 210.5], "nice": false, "zero": false}},
    "text": {"field": "name", "type": "nominal"}}}
 ],
 "resolve": {"scale": {"x": "independent", "y": "independent"}, "axis": {"x": "independent", "y": "independent"}}
}
